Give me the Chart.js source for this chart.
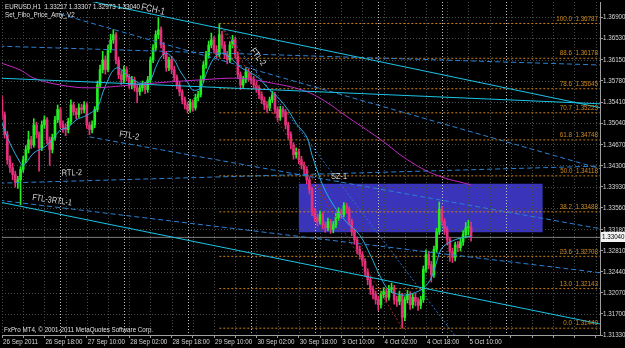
<!DOCTYPE html>
<html>
<head>
<meta charset="utf-8">
<title>EURUSD H1</title>
<script src="https://cdn.jsdelivr.net/npm/chart.js@4.4.1/dist/chart.umd.min.js"></script>
<style>
  html, body { margin: 0; padding: 0; background: #000; overflow: hidden; }
  #chart { display: block; }
</style>
</head>
<body>
<canvas id="chart" width="625" height="348"></canvas>
<script>
// EURUSD H1, 26 Sep - 5 Oct 2011
const firstOpen = 1.3545;
const closes = [
  1.3519, 1.3484, 1.3440, 1.3426, 1.3414, 1.3400, 1.3405, 1.3423, 1.3440, 1.3458,
  1.3475, 1.3466, 1.3501, 1.3484, 1.3461, 1.3501, 1.3510, 1.3475, 1.3458, 1.3479,
  1.3510, 1.3528, 1.3501, 1.3496, 1.3493, 1.3507, 1.3536, 1.3524, 1.3519, 1.3531,
  1.3528, 1.3536, 1.3501, 1.3493, 1.3501, 1.3528, 1.3571, 1.3598, 1.3615, 1.3598,
  1.3633, 1.3650, 1.3659, 1.3615, 1.3589, 1.3580, 1.3598, 1.3584, 1.3571, 1.3580,
  1.3566, 1.3559, 1.3566, 1.3571, 1.3563, 1.3580, 1.3615, 1.3636, 1.3659, 1.3668,
  1.3641, 1.3624, 1.3601, 1.3615, 1.3598, 1.3584, 1.3571, 1.3559, 1.3545, 1.3536,
  1.3528, 1.3540, 1.3531, 1.3549, 1.3554, 1.3580, 1.3606, 1.3624, 1.3641, 1.3650,
  1.3633, 1.3624, 1.3659, 1.3641, 1.3624, 1.3615, 1.3641, 1.3650, 1.3624, 1.3589,
  1.3571, 1.3580, 1.3594, 1.3584, 1.3580, 1.3571, 1.3566, 1.3554, 1.3545, 1.3536,
  1.3531, 1.3545, 1.3554, 1.3528, 1.3514, 1.3528, 1.3524, 1.3501, 1.3484, 1.3466,
  1.3449, 1.3454, 1.3440, 1.3431, 1.3423, 1.3405, 1.3388, 1.3349, 1.3339, 1.3332,
  1.3344, 1.3326, 1.3321, 1.3332, 1.3318, 1.3326, 1.3339, 1.3349, 1.3344, 1.3360,
  1.3353, 1.3332, 1.3314, 1.3300, 1.3283, 1.3274, 1.3262, 1.3244, 1.3230, 1.3213,
  1.3204, 1.3195, 1.3186, 1.3204, 1.3209, 1.3199, 1.3213, 1.3216, 1.3195, 1.3192,
  1.3202, 1.3164, 1.3195, 1.3204, 1.3186, 1.3199, 1.3192, 1.3185, 1.3195, 1.3248,
  1.3274, 1.3256, 1.3239, 1.3283, 1.3314, 1.3353, 1.3332, 1.3318, 1.3300, 1.3279,
  1.3269, 1.3291, 1.3286, 1.3296, 1.3309, 1.3321, 1.33217, 1.33040
];
const highs = [
  1.3552, 1.3524, 1.3490, 1.3447, 1.3434, 1.3420, 1.3411, 1.3428, 1.3446, 1.3465,
  1.3490, 1.3481, 1.3512, 1.3506, 1.3489, 1.3508, 1.3517, 1.3514, 1.3480, 1.3485,
  1.3516, 1.3536, 1.3532, 1.3508, 1.3503, 1.3513, 1.3545, 1.3541, 1.3530, 1.3538,
  1.3537, 1.3542, 1.3540, 1.3506, 1.3508, 1.3533, 1.3578, 1.3606, 1.3630, 1.3622,
  1.3641, 1.3660, 1.3668, 1.3663, 1.3620, 1.3596, 1.3604, 1.3603, 1.3590, 1.3586,
  1.3585, 1.3571, 1.3572, 1.3578, 1.3576, 1.3586, 1.3620, 1.3642, 1.3666, 1.3689,
  1.3673, 1.3646, 1.3630, 1.3620, 1.3621, 1.3604, 1.3589, 1.3577, 1.3563, 1.3550,
  1.3541, 1.3546, 1.3545, 1.3555, 1.3560, 1.3587, 1.3612, 1.3630, 1.3648, 1.3662,
  1.3656, 1.3640, 1.36787, 1.3665, 1.3647, 1.3630, 1.3647, 1.3658, 1.3655, 1.3629,
  1.3594, 1.3586, 1.3600, 1.3599, 1.3592, 1.3586, 1.3577, 1.3570, 1.3559, 1.3550,
  1.3542, 1.3550, 1.3560, 1.3558, 1.3533, 1.3534, 1.3533, 1.3528, 1.3506, 1.3489,
  1.3470, 1.3461, 1.3459, 1.3446, 1.3436, 1.3428, 1.3410, 1.3392, 1.3355, 1.3345,
  1.3350, 1.3348, 1.3331, 1.3338, 1.3336, 1.3332, 1.3346, 1.3356, 1.3354, 1.3365,
  1.3364, 1.3357, 1.3336, 1.3319, 1.3305, 1.3289, 1.3279, 1.3267, 1.3249, 1.3235,
  1.3219, 1.3210, 1.3201, 1.3210, 1.3216, 1.3214, 1.3220, 1.3224, 1.3220, 1.3201,
  1.3210, 1.3206, 1.3200, 1.3211, 1.3209, 1.3205, 1.3206, 1.3198, 1.3201, 1.3254,
  1.3282, 1.3280, 1.3262, 1.3289, 1.3320, 1.3366, 1.3358, 1.3337, 1.3323, 1.3304,
  1.3285, 1.3296, 1.3297, 1.3302, 1.3316, 1.3330, 1.3334, 1.33307
];
const lows = [
  1.3512, 1.3478, 1.3432, 1.3418, 1.3405, 1.3392, 1.3390, 1.3361, 1.3418, 1.3435,
  1.3452, 1.3460, 1.3462, 1.3478, 1.3420, 1.3456, 1.3495, 1.3468, 1.3430, 1.3452,
  1.3474, 1.3505, 1.3496, 1.3488, 1.3482, 1.3487, 1.3502, 1.3518, 1.3512, 1.3514,
  1.3521, 1.3522, 1.3495, 1.3484, 1.3487, 1.3496, 1.3524, 1.3566, 1.3592, 1.3590,
  1.3594, 1.3628, 1.3644, 1.3608, 1.3582, 1.3572, 1.3575, 1.3578, 1.3565, 1.3564,
  1.3560, 1.3540, 1.3553, 1.3560, 1.3556, 1.3558, 1.3575, 1.3610, 1.3631, 1.3652,
  1.3636, 1.3617, 1.3595, 1.3596, 1.3591, 1.3577, 1.3564, 1.3552, 1.3538, 1.3529,
  1.3522, 1.3523, 1.3525, 1.3527, 1.3543, 1.3550, 1.3576, 1.3600, 1.3618, 1.3636,
  1.3627, 1.3618, 1.3620, 1.3635, 1.3617, 1.3608, 1.3610, 1.3636, 1.3618, 1.3582,
  1.3563, 1.3566, 1.3575, 1.3578, 1.3573, 1.3565, 1.3558, 1.3547, 1.3538, 1.3528,
  1.3523, 1.3526, 1.3540, 1.3521, 1.3507, 1.3509, 1.3515, 1.3494, 1.3477, 1.3459,
  1.3441, 1.3443, 1.3433, 1.3424, 1.3415, 1.3398, 1.3380, 1.3342, 1.3332, 1.3324,
  1.3327, 1.3319, 1.3313, 1.3316, 1.3311, 1.3312, 1.3321, 1.3334, 1.3337, 1.3340,
  1.3346, 1.3326, 1.3307, 1.3292, 1.3275, 1.3266, 1.3254, 1.3236, 1.3221, 1.3204,
  1.3196, 1.3187, 1.3176, 1.3180, 1.3198, 1.3191, 1.3194, 1.3207, 1.3187, 1.3183,
  1.3186, 1.31449, 1.3158, 1.3189, 1.3178, 1.3180, 1.3184, 1.3176, 1.3179, 1.3190,
  1.3243, 1.3249, 1.3226, 1.3234, 1.3278, 1.3309, 1.3325, 1.3309, 1.3291, 1.3262,
  1.3260, 1.3263, 1.3279, 1.3280, 1.3290, 1.3303, 1.3308, 1.32973
];

// one label every 16 bars, starting at bar 0
const timeLabels = ['26 Sep 2011', '26 Sep 18:00', '27 Sep 10:00', '28 Sep 02:00', '28 Sep 18:00',
  '29 Sep 10:00', '30 Sep 02:00', '30 Sep 18:00', '3 Oct 10:00', '4 Oct 02:00', '4 Oct 18:00', '5 Oct 10:00'];
const priceTicks = [1.3690, 1.3653, 1.3615, 1.3578, 1.3541, 1.3504, 1.3467, 1.3430,
  1.3393, 1.3356, 1.3318, 1.3281, 1.3244, 1.3207, 1.3170, 1.3133];
const daySeparators = [22, 46, 70, 94, 118, 142, 166, 190];

// Set_Fibo_Price_Amy_V2
const fibLevels = ['100.0', '88.6', '78.6', '70.7', '61.8', '50.0', '38.2', '23.6', '13.0', '0.0'];
const fibPrices = [1.36787, 1.36178, 1.35645, 1.35223, 1.34748, 1.34118, 1.33488, 1.32708, 1.32143, 1.31449];
const fibFromBar = 82;
const fibToBar = 151;

// moving averages
const maFastBars = [0, 3, 7, 8, 12, 16, 19, 22, 25, 28, 32, 36, 38, 40, 42, 44, 48, 51, 53, 56,
  58, 60, 62, 65, 67, 70, 72, 75, 77, 80, 83, 87, 90, 94, 97, 100, 104, 108, 111, 115,
  117, 121, 125, 130, 135, 139, 143, 146, 151, 155, 159, 162, 164, 166, 170, 175, 177];
const maFastVals = [1.3504, 1.3469, 1.3434, 1.3429, 1.3452, 1.3462, 1.3475, 1.3492, 1.3497, 1.3510,
  1.3518, 1.3532, 1.3557, 1.3580, 1.3597, 1.3601, 1.3585, 1.3576, 1.3574, 1.3580,
  1.3602, 1.3620, 1.3627, 1.3615, 1.3597, 1.3576, 1.3562, 1.3566, 1.3590, 1.3618,
  1.3627, 1.3615, 1.3602, 1.3592, 1.3583, 1.3567, 1.3550, 1.3527, 1.3504, 1.3480,
  1.3448, 1.3396, 1.3361, 1.3331, 1.3308, 1.3273, 1.3233, 1.3212, 1.3203, 1.3206,
  1.3215, 1.3233, 1.3261, 1.3285, 1.3298, 1.3305, 1.3306];
const maSlowBars = [0, 7, 12, 22, 33, 49, 62, 75, 87, 94, 100, 112, 120, 131, 143, 153, 164, 177];
const maSlowVals = [1.3609, 1.3597, 1.3583, 1.3571, 1.3566, 1.3571, 1.3576, 1.3580, 1.3583,
  1.3581, 1.3576, 1.3564, 1.3548, 1.3513, 1.3475, 1.3440, 1.3413, 1.3396];

// trend lines: anchor bar / price at both ends
const lineNames = ['FCH-1', 'mid', 'FTL-3', 'upper', 'FCH-2', 'RTL-2', 'FTL-2', 'RTL-1', 'FTL-2 steep'];
const lineBar1 = [31, -1, -1, -1, 22, -1, 33, -1, 84];
const linePrice1 = [1.3720, 1.3583, 1.3366, 1.3639, 1.3695, 1.3399, 1.3480, 1.3369, 1.3667];
const lineBar2 = [226, 226, 226, 226, 226, 226, 226, 226, 173];
const linePrice2 = [1.3531, 1.3538, 1.3152, 1.3606, 1.3424, 1.3429, 1.3319, 1.3242, 1.3119];

// SZ-1 supply zone
const zoneBars = [112, 204];
const zonePrices = [1.3398, 1.3313];

// ---- styling ----
const UP = '#22ee22';
const DOWN = '#e5307c';
const X_MIN = 0, X_MAX = 225.66;
const Y_MIN = 1.3133, Y_MAX = 1.37164;
const FONT = '"Liberation Sans", Arial, sans-serif';
const SQUEEZE = 0.78; // MT4 uses a narrow face, squash text horizontally
const lineKinds = ['solid', 'solid', 'solid', 'dashed', 'dashed', 'dashed', 'dashed', 'dashed', 'dotted'];
const kindStyle = {
  solid: { color: '#1cc4e6', dash: [] },
  dashed: { color: '#2a80d4', dash: [5, 3] },
  dotted: { color: '#2f72c8', dash: [2, 2] }
};
const notes = [
  { text: 'FCH-1', bar: 57, price: 1.3703, angle: 12, size: 10 },
  { text: 'FTL-2', bar: 96.6, price: 1.3620, angle: 52, size: 9 },
  { text: 'FTL-2', bar: 48, price: 1.3482, angle: 10, size: 9 },
  { text: 'RTL-2', bar: 26.4, price: 1.3417, angle: -2, size: 9 },
  { text: 'FTL-3RTL-1', bar: 18.9, price: 1.3369, angle: 8, size: 9 },
  { text: 'SZ-1', bar: 127.2, price: 1.3410, angle: 0, size: 9 }
];

Chart.defaults.font.family = FONT;

const last = closes.length - 1;
const opens = closes.map((c, i) => i ? closes[i - 1] : firstOpen);
const candleColour = i => closes[i] >= opens[i] ? UP : DOWN;
const gridBars = [];
for (let b = 0; b <= 224; b += 8) gridBars.push(b);

const datasets = [];

lineNames.forEach((name, k) => {
  const st = kindStyle[lineKinds[k]];
  datasets.push({
    type: 'line', label: name,
    data: [{ x: lineBar1[k], y: linePrice1[k] }, { x: lineBar2[k], y: linePrice2[k] }],
    borderColor: st.color, borderDash: st.dash, borderWidth: 1, pointRadius: 0, order: 0
  });
});

datasets.push({
  type: 'line', label: 'fibo trend',
  data: [{ x: fibFromBar, y: fibPrices[0] }, { x: fibToBar, y: fibPrices[fibPrices.length - 1] }],
  borderColor: '#a12a1c', borderDash: [2, 2], borderWidth: 1, pointRadius: 0, order: 0
});

datasets.push({
  type: 'line', label: 'MA slow',
  data: maSlowBars.map((b, i) => ({ x: b, y: maSlowVals[i] })),
  borderColor: '#c42ac4', borderWidth: 1, pointRadius: 0, tension: 0.4, order: 1
});
datasets.push({
  type: 'line', label: 'MA fast',
  data: maFastBars.map((b, i) => ({ x: b, y: maFastVals[i] })),
  borderColor: '#2aaee0', borderWidth: 1, pointRadius: 0, tension: 0.35, order: 1
});

datasets.push({
  type: 'bar', label: 'body',
  data: closes.map((c, i) => ({ x: i, y: [opens[i], c] })),
  backgroundColor: ctx => candleColour(ctx.dataIndex),
  barThickness: 2, minBarLength: 1, grouped: false, order: 2
});
datasets.push({
  type: 'bar', label: 'wick',
  data: closes.map((c, i) => ({ x: i, y: [lows[i], highs[i]] })),
  backgroundColor: ctx => candleColour(ctx.dataIndex),
  barThickness: 1, grouped: false, order: 3
});

fibPrices.forEach((p, k) => {
  datasets.push({
    type: 'line', label: 'fib ' + fibLevels[k],
    data: [{ x: fibFromBar, y: p }, { x: X_MAX, y: p }],
    borderColor: '#c8801a', borderDash: [2, 2], borderWidth: 1, pointRadius: 0, order: 4
  });
});

datasets.push({
  type: 'line', label: 'bid',
  data: [{ x: X_MIN, y: closes[last] }, { x: X_MAX, y: closes[last] }],
  borderColor: '#7c7c7c', borderWidth: 1, pointRadius: 0, order: 5
});

function vline(ctx, px, a) {
  px = Math.round(px) + 0.5;
  ctx.beginPath(); ctx.moveTo(px, a.top); ctx.lineTo(px, a.bottom); ctx.stroke();
}
function hline(ctx, py, a) {
  py = Math.round(py) + 0.5;
  ctx.beginPath(); ctx.moveTo(a.left, py); ctx.lineTo(a.right, py); ctx.stroke();
}
// narrow text: draw with a horizontal squeeze
function label(ctx, s, x, y, align) {
  ctx.save();
  ctx.translate(x, y);
  ctx.scale(SQUEEZE, 1);
  ctx.textAlign = align || 'left';
  ctx.fillText(s, 0, 0);
  ctx.restore();
}

const mt4Plugin = {
  id: 'mt4',
  beforeDatasetsDraw(chart) {
    const { ctx, chartArea: a, scales: { x, y } } = chart;
    ctx.save();
    ctx.beginPath();
    ctx.rect(a.left, a.top, a.right - a.left, a.bottom - a.top);
    ctx.clip();

    const zx0 = x.getPixelForValue(zoneBars[0]), zx1 = x.getPixelForValue(zoneBars[1]);
    const zy0 = y.getPixelForValue(zonePrices[0]), zy1 = y.getPixelForValue(zonePrices[1]);
    ctx.fillStyle = '#3a34ba';
    ctx.fillRect(zx0, zy0, zx1 - zx0, zy1 - zy0);

    ctx.lineWidth = 1;
    ctx.setLineDash([1, 2]);
    ctx.strokeStyle = '#434b4b';
    x.ticks.forEach(t => vline(ctx, x.getPixelForValue(t.value), a));
    y.ticks.forEach(t => hline(ctx, y.getPixelForValue(t.value), a));
    ctx.strokeStyle = '#c4c4c4';
    daySeparators.forEach(b => vline(ctx, x.getPixelForValue(b), a));
    ctx.restore();
  },
  afterDatasetsDraw(chart) {
    const { ctx, chartArea: a, scales: { x, y } } = chart;
    ctx.save();
    ctx.font = '8px ' + FONT;
    ctx.fillStyle = '#d08a1c';
    ctx.textBaseline = 'bottom';
    fibPrices.forEach((p, k) => {
      label(ctx, fibLevels[k] + '  ' + p.toFixed(5), a.right - 2, y.getPixelForValue(p) - 1, 'right');
    });

    ctx.fillStyle = '#d4d4d4';
    ctx.textAlign = 'center';
    ctx.textBaseline = 'middle';
    notes.forEach(n => {
      ctx.save();
      ctx.translate(x.getPixelForValue(n.bar), y.getPixelForValue(n.price));
      ctx.rotate(n.angle * Math.PI / 180);
      ctx.scale(0.82, 1);
      ctx.font = n.size + 'px ' + FONT;
      ctx.fillText(n.text, 0, 0);
      ctx.restore();
    });
    ctx.restore();
  },
  afterDraw(chart) {
    const { ctx, chartArea: a, scales: { x, y } } = chart;
    ctx.save();
    ctx.font = '8px ' + FONT;
    ctx.textBaseline = 'middle';

    // axis labels
    ctx.fillStyle = '#d8d8d8';
    timeLabels.forEach((t, k) => label(ctx, t, x.getPixelForValue(k * 16) + 1, 342));
    const py = Math.round(y.getPixelForValue(closes[last]));
    priceTicks.forEach(v => {
      const ty = y.getPixelForValue(v);
      if (Math.abs(ty - py) > 6) label(ctx, v.toFixed(5), a.right + 3, ty);
    });

    // header and footer
    ctx.fillStyle = '#e0e0e0';
    const ohlc = [opens[last], highs[last], lows[last], closes[last]].map(v => v.toFixed(5)).join(' ');
    label(ctx, 'EURUSD,H1  ' + ohlc, 5, 7);
    label(ctx, 'Set_Fibo_Price_Amy_V2', 5, 15);
    label(ctx, 'FxPro MT4, \u00a9 2001-2011 MetaQuotes Software Corp.', 4, 330);

    // current price marker
    ctx.fillStyle = '#f2f2f2';
    ctx.fillRect(a.right + 1, py - 5, 24, 10);
    ctx.fillStyle = '#000';
    label(ctx, closes[last].toFixed(5), a.right + 2, py);
    ctx.restore();
  }
};

new Chart(document.getElementById('chart'), {
  type: 'bar',
  data: { datasets },
  options: {
    responsive: false,
    animation: false,
    events: [],
    devicePixelRatio: 1,
    layout: { padding: { top: 2, left: 2, right: 0, bottom: 0 } },
    plugins: { legend: { display: false }, tooltip: { enabled: false } },
    scales: {
      x: {
        type: 'linear', min: X_MIN, max: X_MAX, offset: false,
        afterBuildTicks: s => { s.ticks = gridBars.map(v => ({ value: v })); },
        afterFit: s => { s.height = 13; s.paddingLeft = 0; s.paddingRight = 0; },
        grid: { drawOnChartArea: false, offset: false, color: '#9a9a9a', tickLength: 3 },
        border: { color: '#a0a0a0' },
        ticks: { display: false }
      },
      y: {
        type: 'linear', position: 'right', min: Y_MIN, max: Y_MAX, beginAtZero: false,
        afterBuildTicks: s => { s.ticks = priceTicks.map(v => ({ value: v })); },
        afterFit: s => { s.width = 25; s.paddingTop = 0; s.paddingBottom = 0; },
        grid: { drawOnChartArea: false, color: '#9a9a9a', tickLength: 3 },
        border: { color: '#a0a0a0' },
        ticks: { display: false }
      }
    }
  },
  plugins: [mt4Plugin]
});
</script>
</body>
</html>
